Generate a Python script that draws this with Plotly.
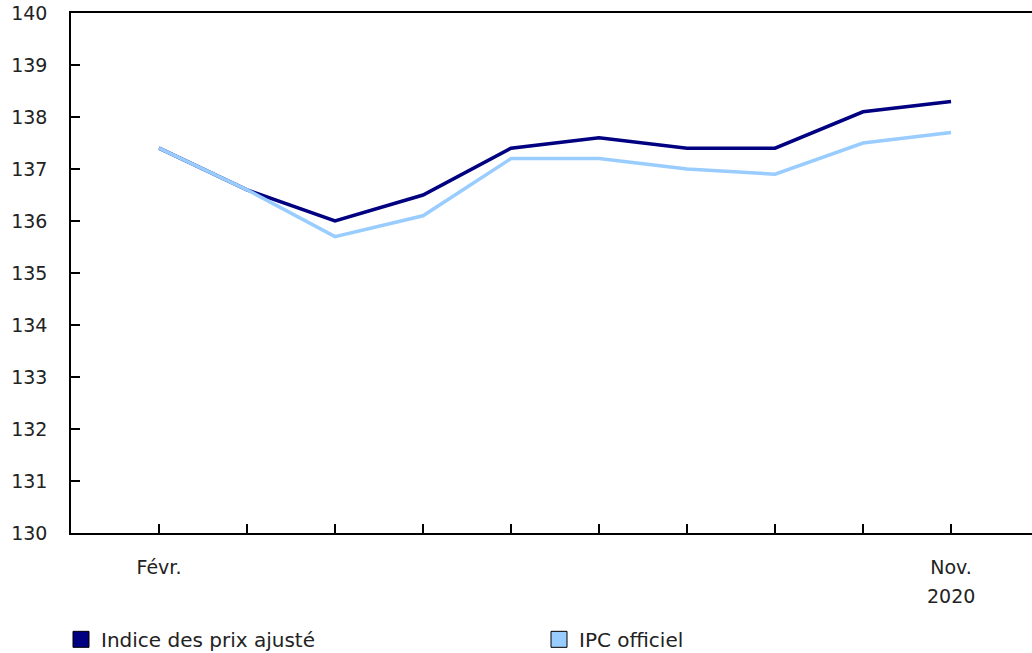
import plotly.graph_objects as go

months = ["Févr.", "Mars", "Avr.", "Mai", "Juin", "Juil.", "Août", "Sept.", "Oct.", "Nov."]
tick_text = ["Févr.", "", "", "", "", "", "", "", "", "Nov."]
year_label = "2020"
adjusted = [137.4, 136.6, 136.0, 136.5, 137.4, 137.6, 137.4, 137.4, 138.1, 138.3]
official = [137.4, 136.6, 135.7, 136.1, 137.2, 137.2, 137.0, 136.9, 137.5, 137.7]
y_ticks = list(range(130, 141))

dark = "#000080"
light = "#99CCFF"
font = "DejaVu Sans"
text_color = "#222222"

fig = go.Figure()
fig.add_trace(go.Scatter(x=months, y=adjusted, mode="lines", line=dict(color=dark, width=3.5),
                         showlegend=False, hoverinfo="skip"))
fig.add_trace(go.Scatter(x=months, y=official, mode="lines", line=dict(color=light, width=3.5),
                         showlegend=False, hoverinfo="skip"))
# legend entries as squares
fig.add_trace(go.Scatter(x=[None], y=[None], mode="markers", name="Indice des prix ajusté",
                         marker=dict(symbol="square", size=20, color=dark, line=dict(color="black", width=1))))
fig.add_trace(go.Scatter(x=[None], y=[None], mode="markers", name="IPC officiel",
                         marker=dict(symbol="square", size=20, color=light, line=dict(color="black", width=1))))

fig.add_annotation(x=months[-1], xref="x", y=-0.121, yref="paper", text=year_label,
                   showarrow=False, yanchor="middle", xanchor="center",
                   font=dict(family=font, size=19, color=text_color))

fig.update_layout(
    width=1032, height=653,
    margin=dict(l=71, r=0, t=13, b=120, autoexpand=False),
    plot_bgcolor="white", paper_bgcolor="white",
    font=dict(family=font, size=19, color=text_color),
    showlegend=True,
    legend=dict(orientation="h", x=-0.0104, xanchor="left", y=-0.167, yanchor="top",
                entrywidth=433, entrywidthmode="pixels", font=dict(size=20),
                itemsizing="trace", traceorder="normal"),
)
fig.update_xaxes(
    type="category", categoryorder="array", categoryarray=months,
    range=[-1, 9.92], tickmode="array", tickvals=months, ticktext=tick_text,
    showgrid=False, zeroline=False, showline=True, linecolor="black", linewidth=1.5,
    mirror=True, ticks="inside", ticklen=9, tickwidth=1.5, tickcolor="black",
    ticklabelstandoff=16, automargin=False,
)
fig.update_yaxes(
    range=[130, 140], tickmode="array", tickvals=y_ticks,
    showgrid=False, zeroline=False, showline=True, linecolor="black", linewidth=1.5,
    ticks="inside", ticklen=9, tickwidth=1.5, tickcolor="black",
    ticklabelstandoff=18, automargin=False,
)

fig.write_html("out.html", config={"displayModeBar": False},
               post_script="document.body.style.margin='0';")
